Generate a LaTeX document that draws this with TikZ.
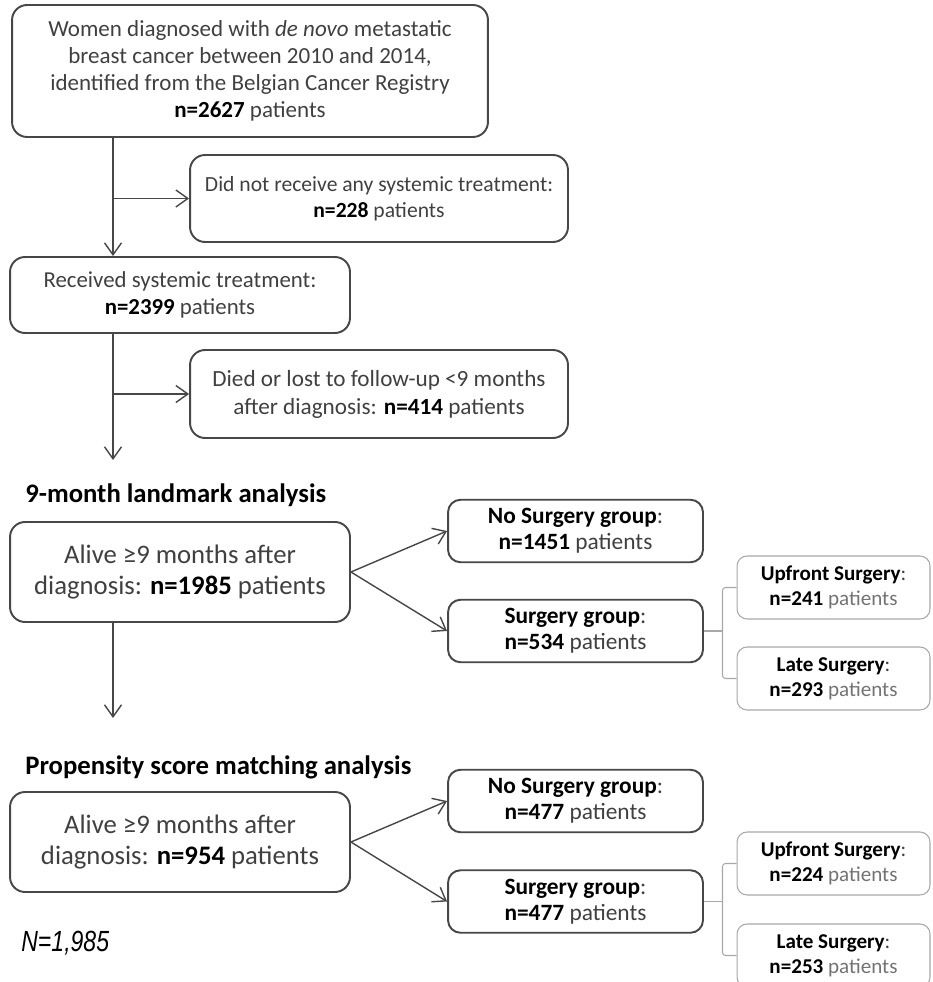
\documentclass[tikz,border=0pt]{standalone}
\usepackage{fontspec}
\setmainfont{Carlito}
\newfontfamily\narrowfont[FakeStretch=0.79]{Liberation Sans}
\usepackage{xcolor}
\definecolor{boxgray}{gray}{0.28}
\definecolor{txtgray}{gray}{0.25}
\definecolor{lightgray}{gray}{0.66}
\definecolor{softgray}{gray}{0.45}
\usetikzlibrary{arrows.meta,positioning}

\begin{document}
\begin{tikzpicture}[x=0.02cm,y=-0.02cm,
    box/.style={draw=boxgray,line width=1.1pt,rounded corners=0.3cm,align=center,
      text=txtgray,inner sep=0pt},
    subbox/.style={draw=lightgray,line width=0.6pt,rounded corners=0.2cm,align=center,
      text=txtgray,inner sep=0pt,minimum width=3.86cm,minimum height=1.26cm,
      font=\fontsize{12}{14.2}\selectfont},
    grpbox/.style={box,rounded corners=0.25cm,minimum width=5.1cm,minimum height=1.25cm,
      font=\fontsize{13.3}{14.8}\selectfont},
    alivebox/.style={box,minimum width=6.8cm,minimum height=2cm,font=\fontsize{15.2}{17.2}\selectfont},
    arr/.style={draw=boxgray,line width=0.8pt,-{Straight Barb[length=2.4mm,width=3.4mm]}},
    brk/.style={draw=lightgray,line width=0.6pt,rounded corners=0.06cm},
    heading/.style={anchor=west,inner sep=0pt,font=\fontsize{15.2}{17}\selectfont\bfseries,text=black}]
  \useasboundingbox (0,0) rectangle (932,982);
  \clip (0,0) rectangle (932,982);

  % screening steps
  \node[box,minimum width=9.52cm,minimum height=2.64cm,font=\fontsize{13.1}{15.3}\selectfont]
    (reg) at (250,71) {Women diagnosed with \textit{de novo} metastatic\\
    breast cancer between 2010 and 2014,\\identified from the Belgian Cancer Registry\\
    \textcolor{black}{\textbf{n=2627}} patients};
  \node[box,minimum width=7.56cm,minimum height=1.74cm,font=\fontsize{12.3}{14.7}\selectfont]
    (nosys) at (379,198.5) {Did not receive any systemic treatment:\\
    \textcolor{black}{\textbf{n=228}} patients};
  \node[box,minimum width=6.8cm,minimum height=1.52cm,font=\fontsize{13}{15.3}\selectfont]
    (sys) at (180,295) {Received systemic treatment:\\\textcolor{black}{\textbf{n=2399}} patients};
  \node[box,minimum width=7.56cm,minimum height=1.76cm,font=\fontsize{13.2}{15.9}\selectfont]
    (lost) at (379,394) {Died or lost to follow-up <9 months\\
    after diagnosis: \textcolor{black}{\textbf{n=414}} patients};

  \coordinate (trunk) at (113,0);
  \coordinate (end1) at (113,460);
  \coordinate (end2) at (113,718);
  \draw[arr] (trunk |- reg.south) -- (trunk |- sys.north);
  \draw[arr] (trunk |- nosys.west) -- (nosys.west);
  \draw[arr] (trunk |- sys.south) -- (end1);
  \draw[arr] (trunk |- lost.west) -- (lost.west);

  % 9-month landmark analysis
  \node[heading] (lmk) at (25,495) {9-month landmark analysis};
  \node[alivebox] (alive) at (180,572)
    {Alive \char"2265 9 months after\\diagnosis: \textcolor{black}{\textbf{n=1985}} patients};
  \node[grpbox] (nosurg) at (575.5,531)
    {\textcolor{black}{\textbf{No Surgery group}}:\\\textcolor{black}{\textbf{n=1451}} patients};
  \node[grpbox] (surg) at (575.5,631)
    {\textcolor{black}{\textbf{Surgery group}}:\\\textcolor{black}{\textbf{n=534}} patients};
  \node[subbox] (upf) at (833.5,587.5)
    {\textcolor{black}{\textbf{Upfront Surgery}}:\\\textcolor{black}{\textbf{n=241}} \textcolor{softgray}{patients}};
  \node[subbox] (late) at (833.5,678.5)
    {\textcolor{black}{\textbf{Late Surgery}}:\\\textcolor{black}{\textbf{n=293}} \textcolor{softgray}{patients}};

  \draw[arr] (alive.east) -- (nosurg.west);
  \draw[arr] (alive.east) -- (surg.west);
  \draw[arr] (alive.south -| trunk) -- (end2);
  \draw[brk] (upf.west) -- ++(-14,0) coordinate (b1) -- (b1 |- late.west) -- (late.west);
  \draw[brk] (surg.east) -- (b1 |- surg.east);

  % propensity score matching analysis
  \node[heading] (psm) at (25,767) {Propensity score matching analysis};
  \node[alivebox] (alive2) at (180,842)
    {Alive \char"2265 9 months after\\diagnosis: \textcolor{black}{\textbf{n=954}} patients};
  \node[grpbox] (nosurg2) at (575.5,801)
    {\textcolor{black}{\textbf{No Surgery group}}:\\\textcolor{black}{\textbf{n=477}} patients};
  \node[grpbox] (surg2) at (575.5,901.5)
    {\textcolor{black}{\textbf{Surgery group}}:\\\textcolor{black}{\textbf{n=477}} patients};
  \node[subbox] (upf2) at (833.5,863.5)
    {\textcolor{black}{\textbf{Upfront Surgery}}:\\\textcolor{black}{\textbf{n=224}} \textcolor{softgray}{patients}};
  \node[subbox] (late2) at (833.5,955.5)
    {\textcolor{black}{\textbf{Late Surgery}}:\\\textcolor{black}{\textbf{n=253}} \textcolor{softgray}{patients}};

  \draw[arr] (alive2.east) -- (nosurg2.west);
  \draw[arr] (alive2.east) -- (surg2.west);
  \draw[brk] (upf2.west) -- ++(-14,0) coordinate (b2) -- (b2 |- late2.west) -- (late2.west);
  \draw[brk] (surg2.east) -- (b2 |- surg2.east);

  \node[font=\narrowfont\itshape\fontsize{16.6}{19}\selectfont,text=black,anchor=west,inner sep=0pt]
    (total) at (21,943) {N=1,985};
\end{tikzpicture}
\end{document}
